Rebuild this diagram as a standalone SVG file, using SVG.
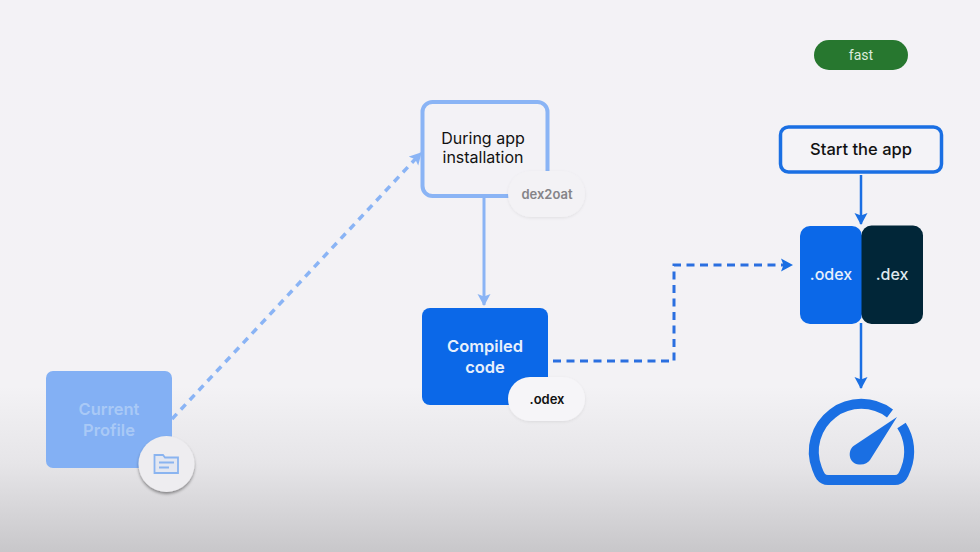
<svg xmlns="http://www.w3.org/2000/svg" width="980" height="552" viewBox="0 0 980 552">
<style>
text{font-family:"Inter","Liberation Sans",sans-serif;text-anchor:middle}
.b{font-weight:600}
.pill{filter:url(#s)}
.c{fill:none}
</style>
<defs>
<linearGradient id="bg" x1="0" y1="0" x2="0" y2="1">
<stop offset="0" stop-color="#f3f2f6"/><stop offset=".7" stop-color="#f3f2f5"/><stop offset=".84" stop-color="#e6e5e8"/><stop offset="1" stop-color="#c8c7ca"/>
</linearGradient>
<filter id="s" x="-30%" y="-30%" width="160%" height="170%"><feDropShadow dx="0" dy="1" stdDeviation="1.500" flood-color="#000" flood-opacity=".08"/></filter>
<filter id="s2" x="-30%" y="-30%" width="160%" height="170%"><feDropShadow dx="0" dy="2" stdDeviation="1.500" flood-color="#000" flood-opacity=".4"/></filter>
<marker id="al" markerUnits="userSpaceOnUse" markerWidth="13" markerHeight="14" refX="11" refY="7" orient="auto"><path d="M0 0.500L12 7L0 13.500L2.500 7Z" fill="#8ab4f5"/></marker>
<marker id="ad" markerUnits="userSpaceOnUse" markerWidth="13" markerHeight="14" refX="11" refY="7" orient="auto"><path d="M0 0.500L12 7L0 13.500L2.500 7Z" fill="#1a6fe3"/></marker>
</defs>
<rect id="background" width="980" height="552" fill="url(#bg)"/>
<g id="connectors" class="c">
<path d="M172 419L421 153" stroke="#8ab4f5" stroke-width="3.500" stroke-dasharray="7 6" marker-end="url(#al)"/>
<path d="M484 197V305" stroke="#8ab4f5" stroke-width="3" marker-end="url(#al)"/>
<path d="M553 361H674V265H792" stroke="#2a6fe0" stroke-width="3" stroke-dasharray="8 5.500" marker-end="url(#ad)"/>
<path d="M861 175V224" stroke="#1a6fe3" stroke-width="2.500" marker-end="url(#ad)"/>
<path d="M861 323V388" stroke="#1a6fe3" stroke-width="2.500" marker-end="url(#ad)"/>
</g>
<g id="current-profile">
<rect x="46" y="371" width="126" height="97" rx="7" fill="#83b0f4"/>
<text x="109" y="415" font-size="16.500" class="b" fill="#a9c9f6">Current</text>
<text x="109" y="436" font-size="16.500" class="b" fill="#a9c9f6">Profile</text>
<circle cx="166.500" cy="464" r="28" fill="#eeedf0" filter="url(#s2)"/>
<path d="M154.500 455H163L165 457.500H178V473H154.500Z" fill="#e3e7f1" stroke="#8ab4f0" stroke-width="1.800"/>
<path d="M159 462.500H174M159 467.500H169" stroke="#8ab4f0" stroke-width="1.800" fill="none"/>
</g>
<g id="during-install">
<rect x="422.500" y="102" width="125" height="94" rx="10" fill="#f3f2f6" stroke="#8ab4f5" stroke-width="4"/>
<text x="483" y="144" font-size="16" fill="#111">During app</text>
<text x="483" y="163" font-size="16" fill="#111">installation</text>
</g>
<g id="dex2oat">
<rect x="508" y="171" width="77" height="46" rx="23" fill="#f3f2f5" class="pill"/>
<text x="547" y="199" font-size="13" class="b" fill="#858488">dex2oat</text>
</g>
<g id="compiled-code">
<rect x="422" y="308" width="126" height="97" rx="8" fill="#0b68e8"/>
<text x="485" y="352" font-size="16.500" class="b" fill="#e8f0fc">Compiled</text>
<text x="485" y="373" font-size="16.500" class="b" fill="#e8f0fc">code</text>
</g>
<g id="odex-tag">
<rect x="508" y="377" width="77" height="44" rx="22" fill="#f6f5f8" class="pill"/>
<text x="547" y="404" font-size="13" class="b" fill="#111">.odex</text>
</g>
<g id="fast">
<rect x="814" y="40" width="94" height="30" rx="15" fill="#27772f"/>
<text x="861" y="60" font-size="14" style="fill:#dcebdd;font-family:Roboto,'Liberation Sans',sans-serif">fast</text>
</g>
<g id="start-app">
<rect x="780.500" y="127" width="161" height="45" rx="8" fill="#f4f3f7" stroke="#1a6fe3" stroke-width="3.500"/>
<text x="861" y="155" font-size="16.500" font-weight="500" fill="#111">Start the app</text>
</g>
<g id="odex">
<rect x="800" y="226" width="62" height="98" rx="10" fill="#0b68e8"/>
<text x="831" y="280" font-size="16" font-weight="500" fill="#e8f0fc">.odex</text>
</g>
<g id="dex">
<rect x="861.500" y="225.500" width="61.500" height="98.500" rx="10" fill="#012638"/>
<text x="892" y="280" font-size="16" font-weight="500" fill="#dfe8ee">.dex</text>
</g>
<g id="gauge">
<path d="M890 413.500A47.500 47.500 0 0 0 817 468.500C819 474 821 480 828 480H895C902 480 904 474 906 468.500A47.500 47.500 0 0 0 901.500 425.500" fill="none" stroke="#1a6fe3" stroke-width="10" stroke-linejoin="round"/>
<path d="M897 417L853.500 446C847 451 849 464 859 464.500C864 465 868 463 870 460Z" fill="#1a6fe3"/>
</g>
</svg>
